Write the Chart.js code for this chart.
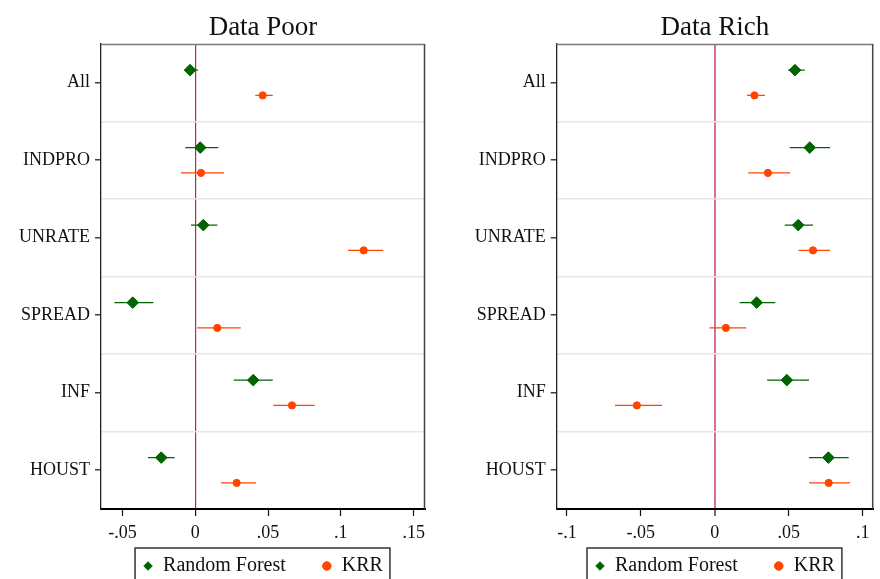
<!DOCTYPE html>
<html>
<head>
<meta charset="utf-8">
<script src="https://cdn.jsdelivr.net/npm/chart.js@4.4.1/dist/chart.umd.min.js"></script>
<style>
  html, body { margin: 0; padding: 0; background: #fff; }
  #wrap { position: relative; width: 880px; height: 579px; overflow: hidden; }
  #wrap canvas { position: absolute; top: 0; }
  #poor { left: 0; }
  #rich { left: 440px; }
</style>
</head>
<body>
<div id="wrap">
  <canvas id="poor" width="440" height="579"></canvas>
  <canvas id="rich" width="440" height="579"></canvas>
</div>
<script>
// Target variables (rows, top to bottom)
const categories = ['All', 'INDPRO', 'UNRATE', 'SPREAD', 'INF', 'HOUST'];
const seriesNames = ['Random Forest', 'KRR'];

// Data-poor panel: point estimates and interval bounds
const poorRF    = [-0.0036, 0.0034, 0.0055, -0.0430, 0.0398, -0.0234];
const poorRFLo  = [-0.0076, -0.0069, -0.0030, -0.0556, 0.0264, -0.0325];
const poorRFHi  = [0.0019, 0.0158, 0.0151, -0.0288, 0.0532, -0.0142];
const poorKRR   = [0.0463, 0.0039, 0.1157, 0.0151, 0.0664, 0.0284];
const poorKRRLo = [0.0412, -0.0098, 0.1049, 0.0012, 0.0536, 0.0177];
const poorKRRHi = [0.0532, 0.0197, 0.1291, 0.0312, 0.0820, 0.0417];

// Data-rich panel
const richRF    = [0.0542, 0.0642, 0.0564, 0.0283, 0.0487, 0.0768];
const richRFLo  = [0.0496, 0.0507, 0.0473, 0.0168, 0.0354, 0.0637];
const richRFHi  = [0.0608, 0.0779, 0.0664, 0.0409, 0.0637, 0.0905];
const richKRR   = [0.0268, 0.0359, 0.0664, 0.0075, -0.0527, 0.0770];
const richKRRLo = [0.0217, 0.0226, 0.0566, -0.0036, -0.0675, 0.0637];
const richKRRHi = [0.0339, 0.0509, 0.0779, 0.0212, -0.0357, 0.0914];

// Axis ticks and ranges
const poorTicks = [-0.05, 0, 0.05, 0.1, 0.15];
const richTicks = [-0.1, -0.05, 0, 0.05, 0.1];
const poorRange = [-0.0648, 0.1578];
const richRange = [-0.1069, 0.1071];

const SERIF = "'Liberation Serif', 'Times New Roman', serif";
const INK = '#111';
const GREEN = '#006400';
const ORANGE = '#ff4500';
const ROW_SHIFT = 0.163;
const CANVAS_H = 579;
const PLOT_BOTTOM = 509;
const X_AXIS_H = 40;
const LEGEND_FONT = 20;
const LEGEND_GAP = 36;
const LEGEND_TEXT_Y = 566;
// legend box height as Chart.js lays it out (one row)
const LEGEND_H = LEGEND_FONT + LEGEND_GAP + 10;
const BOTTOM_PAD = CANVAS_H - PLOT_BOTTOM - X_AXIS_H - LEGEND_H;

Chart.defaults.font.family = SERIF;
Chart.defaults.color = INK;

function fmtTick(v) {
  if (Math.abs(v) < 1e-12) return '0';
  const s = String(Math.abs(+v.toFixed(4))).replace(/^0/, '');
  return (v < 0 ? '-' : '') + s;
}

function pointsOf(vals, shift) {
  return vals.map((v, i) => ({ x: v, y: i + 0.5 + shift }));
}

function segmentsOf(lo, hi, shift) {
  const pts = [];
  lo.forEach((l, i) => {
    const y = i + 0.5 + shift;
    pts.push({ x: l, y: y }, { x: hi[i], y: y }, { x: null, y: null });
  });
  return pts;
}

// Centre title and legend over the plot area; draw plot frame and legend box
const framePlugin = {
  id: 'frame',
  afterLayout(chart) {
    const a = chart.chartArea;
    const mid = (a.left + a.right) / 2;
    const t = chart.titleBlock;
    if (t) { t.left = a.left; t.right = a.right; t.width = a.right - a.left; }
    const lg = chart.legend;
    if (lg) {
      lg.left = mid - 220; lg.right = mid + 220; lg.width = 440;
      lg.top = LEGEND_TEXT_Y - LEGEND_GAP - LEGEND_FONT / 2;
      lg.bottom = chart.height + 20;
      lg.height = lg.bottom - lg.top;
    }
  },
  afterDraw(chart) {
    const { ctx, chartArea: a } = chart;
    ctx.save();
    ctx.lineWidth = 1.5;
    ctx.strokeStyle = '#7a7a7a';
    ctx.beginPath();
    ctx.moveTo(a.left, a.top + 0.5);
    ctx.lineTo(a.right, a.top + 0.5);
    ctx.stroke();
    ctx.strokeStyle = '#444';
    ctx.beginPath();
    ctx.moveTo(a.right - 0.5, a.top);
    ctx.lineTo(a.right - 0.5, a.bottom);
    ctx.stroke();

    const lg = chart.legend;
    if (lg && lg.legendHitBoxes && lg.legendHitBoxes.length) {
      const hb = lg.legendHitBoxes;
      const first = hb[0], last = hb[hb.length - 1];
      const centerY = first.top + first.height / 2;
      const left = first.left - 8;
      const right = last.left + last.width + 7;
      const top = centerY - 18;
      ctx.strokeStyle = '#333';
      ctx.lineWidth = 1.5;
      ctx.strokeRect(left, top, right - left, chart.height + 10 - top);
    }
    ctx.restore();
  }
};

function buildPanel(id, title, d, ticks, range, zeroLine, pad) {
  const datasets = [
    { label: 'rf-ci', isCI: true, data: segmentsOf(d.rfLo, d.rfHi, -ROW_SHIFT),
      showLine: true, borderColor: GREEN, borderWidth: 1.3, pointRadius: 0, order: 3 },
    { label: 'krr-ci', isCI: true, data: segmentsOf(d.krrLo, d.krrHi, ROW_SHIFT),
      showLine: true, borderColor: ORANGE, borderWidth: 1.3, pointRadius: 0, order: 3 },
    { label: seriesNames[0], data: pointsOf(d.rf, -ROW_SHIFT), pointStyle: 'rectRot',
      pointRadius: 5.8, backgroundColor: GREEN, borderColor: GREEN, borderWidth: 1, order: 1 },
    { label: seriesNames[1], data: pointsOf(d.krr, ROW_SHIFT), pointStyle: 'circle',
      pointRadius: 3.6, backgroundColor: ORANGE, borderColor: ORANGE, borderWidth: 1, order: 1 }
  ];

  return new Chart(document.getElementById(id), {
    type: 'scatter',
    data: { datasets: datasets },
    options: {
      responsive: false,
      animation: false,
      events: [],
      layout: { padding: { left: 0, right: pad.right, top: 0, bottom: BOTTOM_PAD } },
      scales: {
        x: {
          type: 'linear',
          min: range[0],
          max: range[1],
          afterBuildTicks: s => { s.ticks = ticks.map(v => ({ value: v })); },
          afterFit: s => { s.height = X_AXIS_H; },
          ticks: {
            autoSkip: false,
            maxRotation: 0,
            padding: 6,
            font: { size: 18 },
            color: INK,
            callback: v => fmtTick(v)
          },
          grid: {
            drawOnChartArea: true,
            color: c => (c.tick && Math.abs(c.tick.value) < 1e-12) ? zeroLine.color : 'rgba(0,0,0,0)',
            lineWidth: c => (c.tick && Math.abs(c.tick.value) < 1e-12) ? zeroLine.width : 1,
            tickColor: '#111',
            tickLength: 7,
            tickWidth: 1.2
          },
          border: { display: true, color: '#000', width: 2 }
        },
        y: {
          type: 'linear',
          min: 0,
          max: categories.length,
          reverse: true,
          afterBuildTicks: s => {
            const t = [];
            for (let i = 1; i < categories.length; i++) t.push(i);
            categories.forEach((c, i) => t.push(i + 0.5));
            t.sort((a, b) => a - b);
            s.ticks = t.map(v => ({ value: v }));
          },
          afterFit: s => { s.width = pad.axis; },
          ticks: {
            autoSkip: false,
            padding: 5,
            font: { size: 18 },
            color: INK,
            callback: v => Number.isInteger(v) ? '' : categories[Math.floor(v)]
          },
          grid: {
            color: c => (c.tick && Number.isInteger(c.tick.value)) ? '#e6e6e6' : 'rgba(0,0,0,0)',
            lineWidth: 1.6,
            tickColor: c => (c.tick && Number.isInteger(c.tick.value)) ? 'rgba(0,0,0,0)' : '#111',
            tickLength: 6,
            tickWidth: 1.2
          },
          border: { display: true, color: '#222', width: 1.3 }
        }
      },
      plugins: {
        title: {
          display: true,
          text: title,
          color: INK,
          font: { size: 27, weight: 'normal' },
          padding: { top: 11.6, bottom: 0 }
        },
        legend: {
          display: true,
          position: 'bottom',
          labels: {
            usePointStyle: true,
            boxWidth: 10,
            boxHeight: 6,
            padding: LEGEND_GAP,
            color: INK,
            font: { size: LEGEND_FONT },
            filter: (item, data) => !data.datasets[item.datasetIndex].isCI
          }
        },
        tooltip: { enabled: false }
      }
    },
    plugins: [framePlugin]
  });
}

buildPanel('poor', 'Data Poor',
  { rf: poorRF, rfLo: poorRFLo, rfHi: poorRFHi, krr: poorKRR, krrLo: poorKRRLo, krrHi: poorKRRHi },
  poorTicks, poorRange, { color: '#cc2047', width: 1.2 }, { axis: 101, right: 15 });

buildPanel('rich', 'Data Rich',
  { rf: richRF, rfLo: richRFLo, rfHi: richRFHi, krr: richKRR, krrLo: richKRRLo, krrHi: richKRRHi },
  richTicks, richRange, { color: '#d7718e', width: 2 }, { axis: 116.7, right: 1 });
</script>
</body>
</html>
